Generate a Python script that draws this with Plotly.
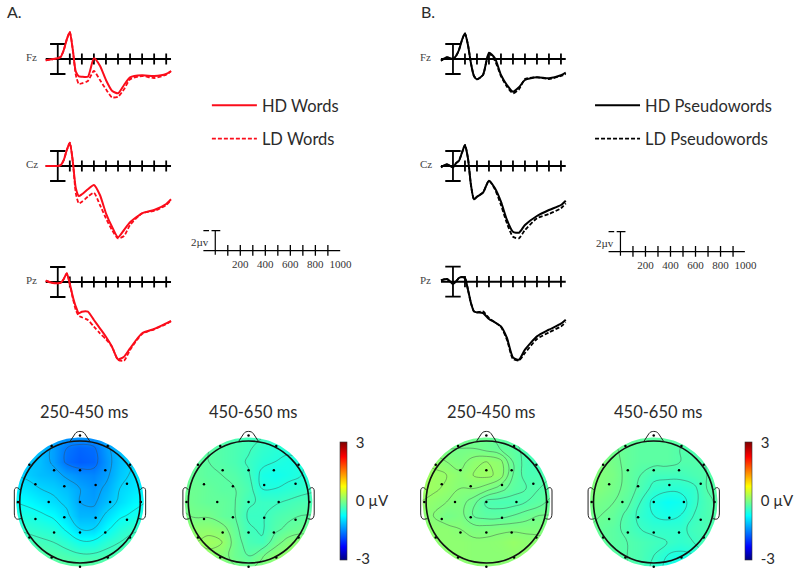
import numpy as np
import plotly.graph_objects as go

# time grid for the ERP waves (ms)
times = [-100, -50, 0, 25, 50, 75, 100, 125, 150, 175, 200, 250, 300, 350, 400, 450, 500, 550, 600, 700, 800, 900, 940]
axis_ticks = [100, 200, 300, 400, 500, 600, 700, 800, 900]
scale_labels = [200, 400, 600, 800, 1000]
sites = ["Fz", "Cz", "Pz"]

# microvolts, negative is drawn downwards
a_fz_hd = [-0.13, -0.03, 0.07, 0.23, 0.9, 1.97, 2.7, 0.9, -1.27, -1.73, -1.77, -1.77, 0.07, -0.67, -2.1, -3.17, -3.43, -2.6, -1.83, -1.63, -1.7, -1.5, -1.2]
a_fz_ld = [-0.13, -0.03, 0.07, 0.23, 0.9, 1.97, 2.7, 0.9, -1.6, -2.5, -2.43, -2.2, -1.2, -2.1, -3.03, -3.83, -3.77, -3.03, -2.03, -1.7, -1.9, -1.57, -1.23]
a_cz_hd = [0, 0, 0, 0.1, 0.6, 1.6, 2.33, 0.43, -2.23, -3.0, -2.83, -2.33, -1.9, -2.9, -4.73, -6.07, -7.13, -6.4, -5.63, -4.73, -4.4, -3.8, -3.33]
a_cz_ld = [0, 0, 0, 0.1, 0.6, 1.6, 2.33, 0.43, -2.73, -3.73, -3.57, -3.07, -2.67, -3.9, -5.23, -6.4, -7.23, -7.0, -5.9, -4.73, -4.5, -3.9, -3.4]
a_pz_hd = [0.13, -0.07, -0.13, -0.07, 0.3, 0.87, -0.2, -1.47, -2.47, -3.13, -2.97, -2.97, -3.8, -4.63, -5.47, -6.47, -7.73, -7.47, -6.63, -5.13, -4.7, -4.13, -3.9]
a_pz_ld = [0.13, -0.07, -0.13, -0.07, 0.3, 0.87, -0.2, -1.63, -2.8, -3.4, -3.53, -3.8, -4.47, -5.13, -5.73, -6.47, -7.8, -7.87, -6.8, -5.2, -4.73, -4.2, -3.93]
b_fz_hd = [-0.17, 0.17, 0, 0.3, 0.9, 1.9, 2.57, 1.4, -0.43, -1.7, -2.03, -1.6, 0.63, 0.07, -1.6, -2.6, -3.27, -2.83, -2.1, -1.83, -1.93, -1.63, -1.37]
b_fz_ld = [-0.17, 0.17, 0, 0.3, 0.9, 1.9, 2.57, 1.4, -0.43, -1.7, -2.03, -1.6, 0.57, -0.17, -1.7, -2.77, -3.43, -3.03, -2.0, -1.83, -2.0, -1.7, -1.5]
b_cz_hd = [-0.13, 0.17, -0.13, 0.27, 0.53, 1.33, 2.1, 0.77, -1.9, -3.33, -3.07, -2.67, -1.47, -2.23, -3.57, -5.4, -6.57, -6.67, -5.9, -5.0, -4.4, -3.9, -3.47]
b_cz_ld = [-0.13, 0.17, -0.13, 0.27, 0.53, 1.33, 2.1, 0.77, -1.9, -3.33, -3.07, -2.67, -1.47, -2.33, -3.9, -5.73, -7.07, -7.23, -6.4, -5.23, -4.8, -4.23, -3.73]
b_pz_hd = [0.13, 0.27, -0.2, 0.03, 0.37, 0.47, 0.37, -0.8, -2.13, -2.97, -3.07, -3.13, -3.73, -4.07, -4.47, -5.63, -7.57, -7.8, -6.8, -5.47, -4.8, -4.2, -3.8]
b_pz_ld = [0.13, 0.27, -0.2, 0.03, 0.37, 0.47, 0.37, -0.8, -2.13, -2.97, -3.07, -2.97, -3.63, -4.07, -4.53, -5.8, -7.73, -7.87, -7.13, -5.73, -5.07, -4.47, -4.07]

# topographic maps, top row first, head radius = 1
grid_xy = [-1.1, -0.88, -0.66, -0.44, -0.22, 0, 0.22, 0.44, 0.66, 0.88, 1.1]
map_a_early = [
    [-1.1, -1.1, -1.15, -1.25, -1.35, -1.35, -1.35, -1.25, -1.2, -1.1, -1.0],
    [-1.1, -1.1, -1.15, -1.35, -1.6, -1.7, -1.65, -1.35, -1.15, -1.0, -0.95],
    [-1.1, -1.1, -1.15, -1.35, -1.65, -1.75, -1.7, -1.4, -1.15, -1.0, -0.95],
    [-1.0, -1.05, -1.15, -1.2, -1.35, -1.45, -1.5, -1.35, -1.1, -0.95, -0.85],
    [-0.85, -0.9, -1.0, -1.05, -1.15, -1.3, -1.4, -1.25, -1.0, -0.9, -0.8],
    [-0.7, -0.75, -0.85, -0.95, -1.05, -1.3, -1.35, -1.15, -0.95, -0.8, -0.7],
    [-0.55, -0.6, -0.65, -0.75, -0.95, -1.2, -1.2, -0.95, -0.75, -0.65, -0.55],
    [-0.4, -0.45, -0.5, -0.55, -0.75, -1.0, -1.0, -0.75, -0.55, -0.45, -0.4],
    [-0.3, -0.3, -0.35, -0.4, -0.5, -0.65, -0.65, -0.5, -0.4, -0.3, -0.3],
    [-0.2, -0.2, -0.2, -0.25, -0.3, -0.35, -0.35, -0.3, -0.25, -0.2, -0.2],
    [-0.15, -0.15, -0.15, -0.15, -0.15, -0.15, -0.15, -0.15, -0.15, -0.15, -0.15],
]
map_a_late = [
    [-0.1, -0.15, -0.2, -0.25, -0.3, -0.35, -0.35, -0.4, -0.45, -0.5, -0.5],
    [-0.1, -0.15, -0.2, -0.25, -0.3, -0.35, -0.45, -0.5, -0.5, -0.5, -0.5],
    [-0.1, -0.15, -0.2, -0.25, -0.3, -0.4, -0.5, -0.55, -0.6, -0.55, -0.5],
    [-0.1, -0.15, -0.2, -0.2, -0.25, -0.35, -0.6, -0.65, -0.6, -0.55, -0.5],
    [-0.1, -0.1, -0.15, -0.2, -0.2, -0.3, -0.55, -0.55, -0.5, -0.45, -0.4],
    [-0.05, -0.1, -0.15, -0.15, -0.2, -0.35, -0.4, -0.4, -0.35, -0.3, -0.3],
    [0, -0.05, -0.05, -0.15, -0.2, -0.4, -0.4, -0.3, -0.25, -0.2, -0.2],
    [0.1, 0.1, 0.1, 0.05, -0.15, -0.35, -0.4, -0.25, -0.15, -0.1, -0.1],
    [0.15, 0.15, 0.2, 0.15, -0.1, -0.3, -0.35, -0.1, 0.05, 0.1, 0.05],
    [0.1, 0.1, 0.1, 0.05, -0.1, -0.2, -0.05, 0.1, 0.15, 0.15, 0.1],
    [0.05, 0.05, 0.05, 0.05, 0, -0.05, 0.05, 0.1, 0.15, 0.1, 0.1],
]
map_b_early = [
    [-0.1, -0.1, -0.1, -0.1, -0.1, -0.1, -0.2, -0.25, -0.3, -0.35, -0.35],
    [0.05, 0, -0.05, -0.05, -0.05, -0.1, -0.15, -0.2, -0.3, -0.35, -0.35],
    [0.15, 0.12, 0.05, 0, 0.1, 0.15, 0.1, -0.15, -0.3, -0.35, -0.3],
    [0.2, 0.18, 0.15, 0.08, 0.15, 0.18, 0.12, -0.15, -0.3, -0.3, -0.25],
    [0.2, 0.18, 0.12, 0.05, 0.05, 0, -0.1, -0.2, -0.25, -0.25, -0.2],
    [0.15, 0.1, 0.05, 0, -0.1, -0.28, -0.3, -0.3, -0.25, -0.2, -0.1],
    [0.1, 0.05, -0.05, 0, -0.15, -0.2, -0.2, -0.15, -0.1, -0.05, -0.05],
    [0.1, 0.1, 0.1, 0.05, 0, 0, 0.02, 0.02, 0.02, 0.02, 0.02],
    [0.1, 0.1, 0.1, 0.1, 0.08, 0.08, 0.1, 0.15, 0.1, 0.08, 0.05],
    [0.1, 0.1, 0.1, 0.1, 0.08, 0.08, 0.08, 0.1, 0.1, 0.08, 0.05],
    [0.1, 0.1, 0.1, 0.1, 0.08, 0.08, 0.08, 0.08, 0.08, 0.08, 0.05],
]
map_b_late = [
    [0, -0.05, -0.1, -0.15, -0.15, -0.2, -0.2, -0.2, -0.25, -0.25, -0.2],
    [0, -0.02, -0.08, -0.15, -0.2, -0.2, -0.2, -0.25, -0.3, -0.3, -0.25],
    [0.05, 0.03, -0.05, -0.15, -0.2, -0.2, -0.2, -0.25, -0.25, -0.25, -0.2],
    [0.05, 0.03, -0.02, -0.15, -0.25, -0.35, -0.35, -0.35, -0.3, -0.25, -0.2],
    [0.05, 0.02, -0.05, -0.15, -0.3, -0.45, -0.5, -0.5, -0.45, -0.25, -0.2],
    [0, -0.05, -0.1, -0.2, -0.4, -0.6, -0.7, -0.65, -0.45, -0.3, -0.2],
    [-0.05, -0.1, -0.15, -0.3, -0.45, -0.55, -0.6, -0.55, -0.4, -0.3, -0.2],
    [-0.1, -0.15, -0.2, -0.3, -0.4, -0.45, -0.45, -0.45, -0.35, -0.3, -0.25],
    [-0.1, -0.15, -0.2, -0.25, -0.3, -0.35, -0.4, -0.45, -0.4, -0.3, -0.25],
    [-0.1, -0.15, -0.2, -0.25, -0.3, -0.4, -0.55, -0.6, -0.55, -0.4, -0.3],
    [-0.1, -0.15, -0.2, -0.25, -0.3, -0.45, -0.6, -0.7, -0.6, -0.45, -0.3],
]
map_titles = ["250-450 ms", "450-650 ms", "250-450 ms", "450-650 ms"]

# electrode positions on the unit head
elec_x = [0, -0.47, 0.46, -0.84, 0.83, -0.43, 0, 0.42, -0.74, -0.26, 0.26, 0.78, -1.03, -0.52, 0, 0.5, 1.01, -0.74, -0.26, 0.26, 0.78, -0.84, -0.43, 0, 0.42, 0.83, -0.47, 0.46, 0]
elec_y = [1.09, 0.92, 0.92, 0.61, 0.61, 0.52, 0.52, 0.52, 0.29, 0.26, 0.28, 0.3, 0, 0, 0, 0, 0, -0.28, -0.25, -0.26, -0.29, -0.58, -0.5, -0.5, -0.5, -0.58, -0.91, -0.91, -1.06]

jet = [[0, "rgb(0,0,130)"], [0.11, "rgb(0,0,255)"], [0.375, "rgb(0,255,255)"], [0.5, "rgb(125,255,130)"],
       [0.625, "rgb(255,255,0)"], [0.875, "rgb(255,0,0)"], [1, "rgb(128,0,0)"]]

W, H = 800, 572
serif = "Liberation Serif"
sans = "Lato"
text_color = "#2b2b2b"

fig = go.Figure()
axes = {}
annots = []
shapes = []
n_axes = 0


def new_axes(x0, x1, y0, y1, xrange, yrange):
    # boxes are given in page pixels
    global n_axes
    n_axes += 1
    s = "" if n_axes == 1 else str(n_axes)
    off = dict(visible=False, showgrid=False, zeroline=False, fixedrange=True)
    axes["xaxis" + s] = dict(off, domain=[x0 / W, x1 / W], range=xrange, anchor="y" + s)
    axes["yaxis" + s] = dict(off, domain=[1 - y1 / H, 1 - y0 / H], range=yrange, anchor="x" + s)
    return "x" + s, "y" + s


def label(x, y, text, size, font=sans, color=text_color, xanchor="center"):
    annots.append(dict(x=x / W, y=1 - y / H, xref="paper", yref="paper", text=text, showarrow=False,
                       font=dict(family=font, size=size, color=color), xanchor=xanchor, yanchor="middle"))


def tick_row(xa, ya, vals, size=8, width=1.8):
    fig.add_trace(go.Scatter(x=vals, y=[0] * len(vals), xaxis=xa, yaxis=ya, mode="markers", showlegend=False,
                             marker=dict(symbol="line-ns", size=size, line=dict(width=width, color="black"))))


def erp_panel(zero_px, px_per_ms, base_px, site, label_px, hd, ld, color, hd_name, ld_name, legend):
    top, bottom = 40, 125
    xa, ya = new_axes(zero_px - 130 * px_per_ms, zero_px + 960 * px_per_ms, base_px - top, base_px + bottom,
                      [-130, 960], [bottom / -10, top / 10])
    fig.add_trace(go.Scatter(x=[times[0], times[-1]], y=[0, 0], xaxis=xa, yaxis=ya, mode="lines", showlegend=False,
                             line=dict(color="black", width=2)))
    tick_row(xa, ya, axis_ticks)
    fig.add_trace(go.Scatter(x=[0, 0], y=[1.5, -1.5], xaxis=xa, yaxis=ya, mode="lines+markers", showlegend=False,
                             line=dict(color="black", width=1.8),
                             marker=dict(symbol="line-ew", size=11, line=dict(width=1.8, color="black"))))
    show = hd_name is not None
    fig.add_trace(go.Scatter(x=times, y=hd, xaxis=xa, yaxis=ya, mode="lines", name=hd_name, showlegend=show,
                             legend=legend, legendgroup="hd",
                             line=dict(color=color, width=2, shape="spline", smoothing=0.6)))
    fig.add_trace(go.Scatter(x=times, y=ld, xaxis=xa, yaxis=ya, mode="lines", name=ld_name, showlegend=show,
                             legend=legend, legendgroup="ld",
                             line=dict(color=color, width=1.8, dash="4px,2px", shape="spline", smoothing=0.6)))
    label(label_px, base_px - 2, site, 11, serif, "#444444")


def scale_panel(zero_px, base_px, end_px):
    px_per_ms = 0.1267
    top, bottom = 24, 5
    left_ms = -14 / px_per_ms
    end_ms = (end_px - zero_px) / px_per_ms
    xa, ya = new_axes(zero_px - 14, end_px + 2, base_px - top, base_px + bottom,
                      [left_ms, end_ms + 2 / px_per_ms], [-bottom / 10, top / 10])
    axes["xaxis" + xa[1:]].update(visible=True, showline=False, ticks="", tickmode="array", tickvals=scale_labels,
                                  ticktext=[str(v) for v in scale_labels], tickangle=0,
                                  tickfont=dict(family=serif, size=11, color="#333333"))
    fig.add_trace(go.Scatter(x=[-95, end_ms], y=[0, 0], xaxis=xa, yaxis=ya, mode="lines",
                             showlegend=False, line=dict(color="black", width=1.2)))
    tick_row(xa, ya, axis_ticks, size=8, width=1.3)
    fig.add_trace(go.Scatter(x=[0, 0], y=[2, -0.4], xaxis=xa, yaxis=ya, mode="lines", showlegend=False,
                             line=dict(color="black", width=1.2)))
    fig.add_trace(go.Scatter(x=[-95, -50, None, -30, 40], y=[2, 2, None, 2, 2], xaxis=xa, yaxis=ya, mode="lines",
                             showlegend=False, line=dict(color="black", width=1.2)))
    label(zero_px - 4.5, base_px - 9, "2\u00b5v", 11, serif, "#333333", "right")


def head_map(cx, cy, z, title, start, end, size, colorbar_px=None):
    r = 61
    top = 1.22
    low = 1.14
    side = 1.22
    xa, ya = new_axes(cx - r * side, cx + r * side, cy - r * top, cy + r * low, [-side, side], [-low, top])
    fig.add_trace(go.Contour(x=grid_xy, y=grid_xy[::-1], z=z, xaxis=xa, yaxis=ya, zmin=-3, zmax=3, colorscale=jet,
                             showscale=False, hoverinfo="skip",
                             contours=dict(coloring="heatmap", start=start, end=end, size=size, showlines=True),
                             line=dict(color="rgba(60,70,70,0.6)", width=0.7, smoothing=1.2)))
    if colorbar_px is not None:
        # separate empty trace, a contour colorbar would draw its levels on the bar
        cbar = dict(x=colorbar_px / W, xanchor="left", xpad=0, ypad=0, y=1 - 560 / H, yanchor="bottom",
                    len=118 / H, thickness=6.5, outlinewidth=0.6, outlinecolor="#333333",
                    ticks="outside", ticklen=6, tickcolor="rgba(0,0,0,0)",
                    tickmode="array", tickvals=[-2.95, 0, 2.95], ticktext=["-3", "0 \u00b5V", "3"],
                    tickfont=dict(family=sans, size=15, color=text_color))
        fig.add_trace(go.Scatter(x=[None], y=[None], xaxis=xa, yaxis=ya, mode="markers", showlegend=False,
                                 marker=dict(color=[0], cmin=-3, cmax=3, colorscale=jet, showscale=True, colorbar=cbar)))
    # white ring leaves only the disc of the map, walked the other way round so the middle stays open
    a = np.linspace(0, 2 * np.pi, 181)
    disc = 1.058
    ring_x = [side, side, -side, -side, side, side] + list(disc * np.cos(a))
    ring_y = [0, top, top, -low, -low, 0] + list(-disc * np.sin(a))
    fig.add_trace(go.Scatter(x=ring_x, y=ring_y, xaxis=xa, yaxis=ya, mode="lines", fill="toself", fillcolor="white",
                             line=dict(width=0), showlegend=False, hoverinfo="skip"))
    # outline
    head = dict(type="path", xref=xa, yref=ya, line=dict(color="#222222", width=1))
    shapes.append(dict(type="circle", xref=xa, yref=ya, x0=-1, x1=1, y0=-1, y1=1, line=dict(color="#111111", width=1.6)))
    shapes.append(dict(head, path="M -0.17 0.985 L -0.08 1.12 C -0.05 1.17 0.05 1.17 0.08 1.12 L 0.17 0.985"))
    shapes.append(dict(head, path="M -1.0 0.2 C -1.03 0.25 -1.09 0.25 -1.09 0.18 L -1.09 -0.18 C -1.09 -0.3 -1.03 -0.29 -0.98 -0.27"))
    shapes.append(dict(head, path="M 1.0 0.2 C 1.03 0.25 1.09 0.25 1.09 0.18 L 1.09 -0.18 C 1.09 -0.3 1.03 -0.29 0.98 -0.27"))
    fig.add_trace(go.Scatter(x=elec_x, y=elec_y, xaxis=xa, yaxis=ya, mode="markers", showlegend=False,
                             marker=dict(color="black", size=2.5), hoverinfo="skip"))
    label(cx + 5, 412, title, 16.5)


red = "#fb0d1b"
a_waves = [(a_fz_hd, a_fz_ld), (a_cz_hd, a_cz_ld), (a_pz_hd, a_pz_ld)]
b_waves = [(b_fz_hd, b_fz_ld), (b_cz_hd, b_cz_ld), (b_pz_hd, b_pz_ld)]
a_bases = [59, 166, 282]
b_bases = [59, 166, 281.7]
for i in range(3):
    names = ("HD Words", "LD Words") if i == 0 else (None, None)
    erp_panel(58.5, 0.122, a_bases[i], sites[i], 32, a_waves[i][0], a_waves[i][1], red, names[0], names[1], "legend")
    names = ("HD Pseudowords", "LD Pseudowords") if i == 0 else (None, None)
    erp_panel(458.7, 0.1215, b_bases[i], sites[i], 431, b_waves[i][0], b_waves[i][1], "black", names[0], names[1], "legend2")

scale_panel(218, 250.7, 344.5)
scale_panel(628.3, 251.7, 754.3)

head_map(81, 502, map_a_early, map_titles[0], -1.6, -0.1, 0.3)
head_map(251.7, 502, map_a_late, map_titles[1], -0.55, 0.15, 0.175, 344.3)
head_map(492.5, 502, map_b_early, map_titles[2], -0.25, 0.15, 0.1)
head_map(662, 502, map_b_late, map_titles[3], -0.55, 0.05, 0.15, 754.3)

label(5, 11, "A.", 16, xanchor="left")
label(424, 11, "B.", 16, xanchor="left")

legend_style = dict(xanchor="left", yanchor="top", bgcolor="rgba(0,0,0,0)", itemwidth=45, tracegroupgap=9,
                    font=dict(family=sans, size=16.5, color=text_color), traceorder="grouped", itemclick=False)
fig.update_layout(
    width=W, height=H, margin=dict(l=0, r=0, t=0, b=0), paper_bgcolor="white", plot_bgcolor="rgba(0,0,0,0)",
    hovermode=False, annotations=annots, shapes=shapes,
    legend=dict(legend_style, x=209.5 / W, y=1 - 88 / H),
    legend2=dict(legend_style, x=597.5 / W, y=1 - 88 / H),
    **axes,
)
# page margin off so page pixels are figure pixels
fig.write_html("out.html", config=dict(displayModeBar=False),
               post_script="document.body.style.margin='0';document.body.style.overflow='hidden';")
